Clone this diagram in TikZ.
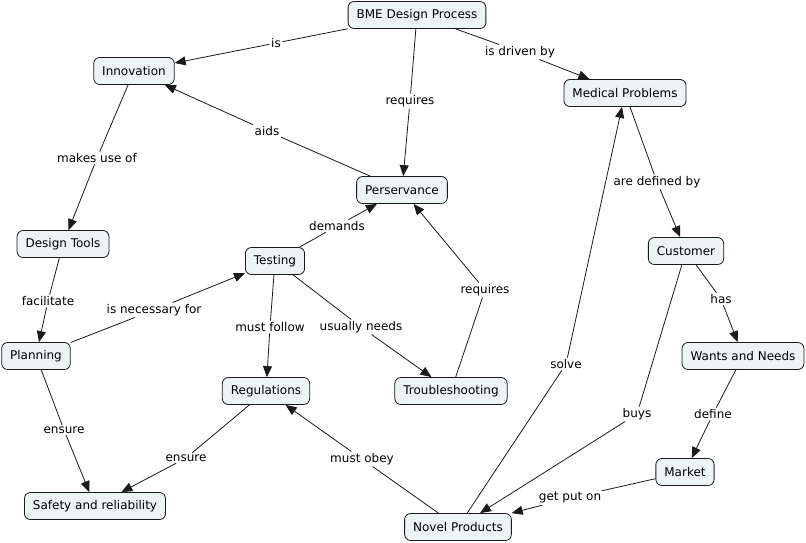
\documentclass[tikz,border=0pt]{standalone}
\usepackage{fontspec}
\setmainfont{DejaVu Sans}
\usetikzlibrary{arrows.meta}
\definecolor{nodefill}{HTML}{EEF3F6}
\definecolor{edgecol}{HTML}{1A1A1A}
\begin{document}
\begin{tikzpicture}[x=1pt,y=-1pt,
  concept/.style={draw=edgecol, fill=nodefill, rounded corners=6pt, minimum height=27pt, inner xsep=8.5pt, inner ysep=3pt, font=\fontsize{12}{14}\selectfont, line width=0.8pt},
  lbl/.style={inner sep=1.5pt, font=\fontsize{12}{14}\selectfont},
  link/.style={draw=edgecol, line width=0.8pt},
  arr/.style={link, -{Triangle[length=11pt,width=9pt]}}]
\useasboundingbox[fill=white] (0,0) rectangle (806,542);
% concepts
\node[concept] (bme) at (417,15) {BME Design Process};
\node[concept] (inn) at (134,71) {Innovation};
\node[concept] (med) at (625,93) {Medical Problems};
\node[concept] (per) at (402,190) {Perservance};
\node[concept] (dt) at (63,244) {Design Tools};
\node[concept] (tst) at (275,261) {Testing};
\node[concept] (cus) at (686,251) {Customer};
\node[concept] (pla) at (36,356) {Planning};
\node[concept] (wan) at (743,356) {Wants and Needs};
\node[concept] (reg) at (266,391) {Regulations};
\node[concept] (tro) at (451,391) {Troubleshooting};
\node[concept] (mar) at (685,472) {Market};
\node[concept] (saf) at (95,506) {Safety and reliability};
\node[concept] (nov) at (458,527) {Novel Products};
% labels
\node[lbl] (l1) at (276,43) {is};
\node[lbl] (l2) at (410,101) {requires};
\node[lbl] (l3) at (520,52) {is driven by};
\node[lbl] (l4) at (267,131) {aids};
\node[lbl] (l5) at (97,158) {makes use of};
\node[lbl] (l6) at (657,182) {are defined by};
\node[lbl] (l7) at (337,226) {demands};
\node[lbl] (l8) at (48,301) {facilitate};
\node[lbl] (l9) at (154,310) {is necessary for};
\node[lbl] (l10) at (270,327) {must follow};
\node[lbl] (l11) at (361,327) {usually needs};
\node[lbl] (l12) at (485,290) {requires};
\node[lbl] (l13) at (721,299) {has};
\node[lbl] (l14) at (713,414) {define};
\node[lbl] (l15) at (637,414) {buys};
\node[lbl] (l16) at (566,364) {solve};
\node[lbl] (l17) at (362,459) {must obey};
\node[lbl] (l18) at (64,430) {ensure};
\node[lbl] (l19) at (186,458) {ensure};
\node[lbl] (l20) at (570,498) {get put on};
% links
\draw[arr] (bme) -- (l1) -- (inn);
\draw[arr] (bme) -- (l2) -- (per);
\draw[arr] (bme) -- (l3) -- (med);
\draw[arr] (per) -- (l4) -- (inn);
\draw[arr] (inn) -- (l5) -- (dt);
\draw[arr] (med) -- (l6) -- (cus);
\draw[arr] (tst) -- (l7) -- (per);
\draw[arr] (dt) -- (l8) -- (pla);
\draw[arr] (pla) -- (l9) -- (tst);
\draw[arr] (tst) -- (l10) -- (reg);
\draw[arr] (tst) -- (l11) -- (tro);
\draw[arr] (tro) -- (l12) -- (per);
\draw[arr] (cus) -- (l13) -- (wan);
\draw[arr] (wan) -- (l14) -- (mar);
\draw[arr] (cus) -- (l15) -- (nov);
\draw[arr] (nov) -- (l16) -- (med);
\draw[arr] (nov) -- (l17) -- (reg);
\draw[arr] (pla) -- (l18) -- (saf);
\draw[arr] (reg) -- (l19) -- (saf);
\draw[arr] (mar) -- (l20) -- (nov);
\end{tikzpicture}
\end{document}
